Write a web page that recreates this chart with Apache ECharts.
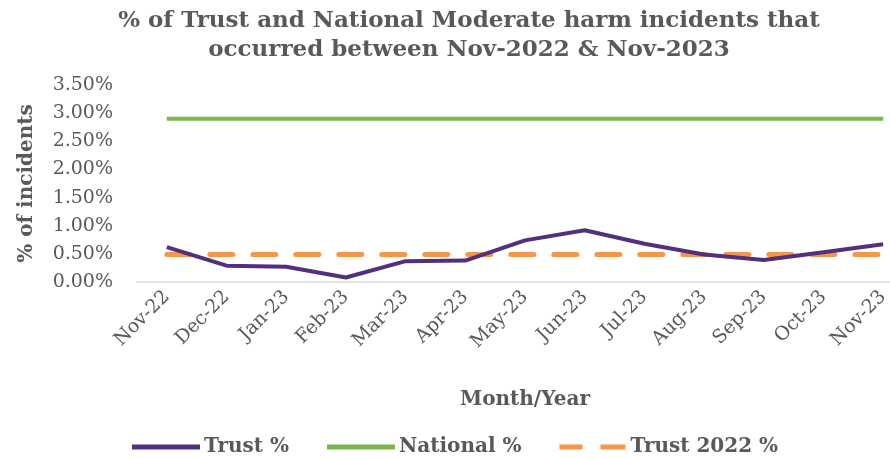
<!DOCTYPE html>
<html lang="en">
<head>
    <meta charset="UTF-8">
    <title>Trust and National Moderate harm incidents</title>
    <script src="https://cdn.jsdelivr.net/npm/echarts@6/dist/echarts.min.js"></script>
    <style>
        html, body { margin: 0; padding: 0; background: #fff; }
    </style>
</head>
<body>
    <div id="chart" style="width: 890px; height: 459px;"></div>
    <script>
    // data
    var months = ['Nov-22', 'Dec-22', 'Jan-23', 'Feb-23', 'Mar-23', 'Apr-23', 'May-23',
                  'Jun-23', 'Jul-23', 'Aug-23', 'Sep-23', 'Oct-23', 'Nov-23'];
    var trustPct = [0.62, 0.29, 0.27, 0.08, 0.37, 0.38, 0.74, 0.92, 0.68, 0.49, 0.39, 0.53, 0.67];
    var nationalPct = [2.90, 2.90, 2.90, 2.90, 2.90, 2.90, 2.90, 2.90, 2.90, 2.90, 2.90, 2.90, 2.90];
    var trust2022Pct = [0.49, 0.49, 0.49, 0.49, 0.49, 0.49, 0.49, 0.49, 0.49, 0.49, 0.49, 0.49, 0.49];

    var font = 'DejaVu Serif';
    var grey = '#595959';
    var purple = '#52307c';
    var green = '#7ab648';
    var orange = '#f79646';

    // legend icons drawn as paths so they keep the thick / dashed look
    var solidIcon = 'path://M0,0h68v5h-68z';
    var dashIcon = 'path://M0,0h23v5h-23z M41,0h25v5h-25z';

    var chart = echarts.init(document.getElementById('chart'));

    var option = {
        animation: false,
        title: {
            text: '% of Trust and National Moderate harm incidents that\noccurred between Nov-2022 & Nov-2023',
            left: 464,
            textAlign: 'center',
            top: 2,
            textStyle: {
                fontFamily: font,
                fontWeight: 'bold',
                fontSize: 23,
                lineHeight: 29,
                color: grey
            }
        },
        legend: {
            left: 127,
            top: 432,
            itemWidth: 68,
            itemHeight: 5,
            itemGap: 38,
            textStyle: {
                fontFamily: font,
                fontWeight: 'bold',
                fontSize: 20,
                color: grey,
                padding: [0, 0, 0, -1]
            },
            data: [
                { name: 'Trust %', icon: solidIcon, itemStyle: { color: purple } },
                { name: 'National %', icon: solidIcon, itemStyle: { color: green } },
                { name: 'Trust 2022 %', icon: dashIcon, itemStyle: { color: orange } }
            ]
        },
        grid: {
            left: 137,
            top: 85,
            width: 776,
            height: 197,
            outerBoundsMode: 'none'
        },
        xAxis: {
            type: 'category',
            data: months,
            name: 'Month/Year',
            nameLocation: 'middle',
            nameGap: 108,
            nameTextStyle: {
                fontFamily: font,
                fontWeight: 'bold',
                fontSize: 20,
                color: grey
            },
            axisLine: { lineStyle: { color: '#d9d9d9', width: 1.5 } },
            axisTick: { show: false },
            axisLabel: {
                rotate: 45,
                margin: 12,
                fontFamily: font,
                fontSize: 19,
                color: grey
            }
        },
        yAxis: {
            type: 'value',
            min: 0,
            max: 3.5,
            interval: 0.5,
            name: '% of incidents',
            nameLocation: 'middle',
            nameGap: 100,
            nameRotate: 90,
            nameTextStyle: {
                fontFamily: font,
                fontWeight: 'bold',
                fontSize: 20,
                color: grey
            },
            axisLine: { show: false },
            axisTick: { show: false },
            splitLine: { show: false },
            axisLabel: {
                margin: 24,
                fontFamily: font,
                fontSize: 19,
                color: grey,
                formatter: function (v) { return v.toFixed(2) + '%'; }
            }
        },
        series: [
            {
                name: 'Trust %',
                type: 'line',
                data: trustPct,
                symbol: 'none',
                z: 4,
                lineStyle: { color: purple, width: 4 },
                itemStyle: { color: purple }
            },
            {
                name: 'National %',
                type: 'line',
                data: nationalPct,
                symbol: 'none',
                lineStyle: { color: green, width: 4 },
                itemStyle: { color: green }
            },
            {
                name: 'Trust 2022 %',
                type: 'line',
                data: trust2022Pct,
                symbol: 'none',
                z: 3,
                lineStyle: { color: orange, width: 5, type: [23, 20], cap: 'round' },
                itemStyle: { color: orange }
            }
        ]
    };

    chart.setOption(option);
    </script>
</body>
</html>
